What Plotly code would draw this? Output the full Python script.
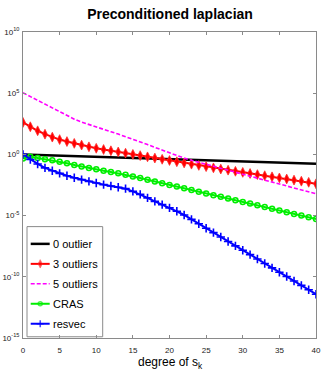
import plotly.graph_objects as go

# degree of s_k
degree = [0, 1, 2, 3, 4, 5, 6, 7, 8, 9, 10, 11, 12, 13, 14, 15, 16, 17, 18, 19, 20,
          21, 22, 23, 24, 25, 26, 27, 28, 29, 30, 31, 32, 33, 34, 35, 36, 37, 38, 39, 40]

# log10 of the plotted quantities
log_0_outlier = [0.00, -0.02, -0.04, -0.06, -0.08, -0.10, -0.11, -0.13, -0.15, -0.17, -0.19,
                 -0.21, -0.23, -0.25, -0.27, -0.29, -0.30, -0.32, -0.34, -0.36, -0.38,
                 -0.40, -0.42, -0.44, -0.46, -0.48, -0.49, -0.51, -0.53, -0.55, -0.57,
                 -0.59, -0.61, -0.63, -0.65, -0.67, -0.68, -0.70, -0.72, -0.74, -0.76]
log_3_outliers = [2.61, 2.26, 1.93, 1.65, 1.41, 1.21, 1.05, 0.90, 0.76, 0.62, 0.50,
                  0.40, 0.30, 0.20, 0.10, 0.00, -0.10, -0.20, -0.30, -0.40, -0.50,
                  -0.60, -0.70, -0.80, -0.90, -1.00, -1.10, -1.20, -1.29, -1.38, -1.47,
                  -1.56, -1.65, -1.74, -1.83, -1.92, -2.01, -2.10, -2.19, -2.28, -2.40]
log_5_outliers = [5.03, 4.72, 4.42, 4.10, 3.77, 3.45, 3.15, 2.88, 2.64, 2.43, 2.23,
                  2.04, 1.85, 1.66, 1.46, 1.25, 1.03, 0.80, 0.57, 0.34, 0.12,
                  -0.10, -0.30, -0.48, -0.65, -0.81, -0.97, -1.12, -1.30, -1.46, -1.62,
                  -1.78, -1.94, -2.10, -2.26, -2.42, -2.58, -2.74, -2.90, -3.06, -3.22]
log_cras = [-0.33, -0.19, -0.30, -0.40, -0.48, -0.60, -0.73, -0.86, -0.99, -1.11, -1.22,
            -1.33, -1.44, -1.55, -1.67, -1.80, -1.93, -2.07, -2.21, -2.35, -2.49,
            -2.63, -2.77, -2.91, -3.05, -3.19, -3.33, -3.47, -3.61, -3.75, -3.89,
            -4.02, -4.16, -4.30, -4.44, -4.58, -4.72, -4.86, -5.00, -5.14, -5.28]
log_resvec = [0.00, -0.42, -0.78, -1.10, -1.33, -1.55, -1.74, -1.91, -2.06, -2.20, -2.34,
              -2.47, -2.58, -2.68, -2.80, -3.02, -3.27, -3.55, -3.84, -4.10, -4.37,
              -4.65, -4.95, -5.31, -5.67, -6.03, -6.39, -6.75, -7.11, -7.47, -7.83,
              -8.19, -8.55, -8.91, -9.27, -9.63, -9.98, -10.34, -10.70, -11.06, -11.42]

series_names = ["0 outlier", "3 outliers", "5 outliers", "CRAS", "resvec"]
x_ticks = [0, 5, 10, 15, 20, 25, 30, 35, 40]
y_tick_exponents = [-15, -10, -5, 0, 5, 10]

styles = {
    "0 outlier": dict(line=dict(color="#000000", width=2.5), mode="lines", marker=None),
    "3 outliers": dict(line=dict(color="#ff0000", width=2), mode="lines+markers",
                       marker=dict(symbol="diamond-tall", size=7, color="#ff0000",
                                   line=dict(width=0.8, color="#ff3030"))),
    "5 outliers": dict(line=dict(color="#ff00ff", width=1.6, dash="4px,2px"), mode="lines", marker=None),
    "CRAS": dict(line=dict(color="#00ee00", width=2), mode="lines+markers",
                 marker=dict(symbol="circle-open", size=5, color="#00ee00", line=dict(width=1.5, color="#00ee00"))),
    "resvec": dict(line=dict(color="#0000ff", width=2), mode="lines+markers",
                   marker=dict(symbol="cross-thin-open", size=6, color="#0000ff", line=dict(width=1.6, color="#4040ff"))),
}

data_map = {
    "0 outlier": log_0_outlier,
    "3 outliers": log_3_outliers,
    "5 outliers": log_5_outliers,
    "CRAS": log_cras,
    "resvec": log_resvec,
}

fig = go.Figure()
for name in series_names:
    st = styles[name]
    kw = dict(x=degree, y=[10 ** v for v in data_map[name]], mode=st["mode"], line=st["line"],
              name=name, showlegend=False)
    if st["marker"] is not None:
        kw["marker"] = st["marker"]
    fig.add_trace(go.Scatter(**kw))

# custom legend (MATLAB style) on an overlay axis in [0,1]
leg_left, leg_right, leg_top, leg_bottom = 0.0137, 0.272, 0.364, 0.004
row_y = [0.3076, 0.2423, 0.1771, 0.1119, 0.0466]
sx0, sxm, sx1, tx = 0.0263, 0.0588, 0.0911, 0.095
legend_font = dict(family="Liberation Sans, Arial, sans-serif", size=11, color="#000000")
for name, yy in zip(series_names, row_y):
    st = styles[name]
    if st["marker"] is not None:
        m = dict(st["marker"])
        m["size"] = [0, max(st["marker"]["size"] - 1, 4), 0]
        fig.add_trace(go.Scatter(x=[sx0, sxm, sx1], y=[yy, yy, yy], mode="lines+markers",
                                 line=st["line"], marker=m, xaxis="x2", yaxis="y2",
                                 showlegend=False, hoverinfo="skip"))
    else:
        fig.add_trace(go.Scatter(x=[sx0, sx1], y=[yy, yy], mode="lines", line=st["line"],
                                 xaxis="x2", yaxis="y2", showlegend=False, hoverinfo="skip"))
    fig.add_annotation(x=tx, y=yy, xref="paper", yref="paper", text=name, showarrow=False,
                       xanchor="left", yanchor="middle", font=legend_font)

fig.add_shape(type="rect", xref="paper", yref="paper", x0=leg_left, x1=leg_right,
              y0=leg_bottom, y1=leg_top, line=dict(color="#8a8a8a", width=1),
              fillcolor="rgba(0,0,0,0)")

# x-axis title
fig.add_annotation(x=0.505, y=-0.05, xref="paper", yref="paper", text="degree of s<sub>k</sub>",
                   showarrow=False, xanchor="center", yanchor="top",
                   font=dict(family="Liberation Sans, Arial, sans-serif", size=12, color="#000000"))

tick_font = dict(family="Liberation Sans, sans-serif", size=8, color="#222222")

fig.update_layout(
    width=322, height=372,
    margin=dict(l=23, r=6, t=32, b=34, autoexpand=False),
    paper_bgcolor="white", plot_bgcolor="white",
    title=dict(text="<b>Preconditioned laplacian</b>", x=0.528, xanchor="center", y=0.962, yanchor="middle",
               font=dict(family="Liberation Sans, Arial, sans-serif", size=14, color="#000000")),
    xaxis=dict(range=[0, 40], tickvals=x_ticks, ticktext=[str(t) for t in x_ticks],
               ticks="inside", ticklen=3, tickcolor="#8a8a8a", showline=True, linecolor="#8a8a8a",
               linewidth=1, mirror="ticks", showgrid=False, zeroline=False, tickfont=tick_font,
               automargin=False, ticklabeloverflow="allow", ticklabelstandoff=4),
    yaxis=dict(type="log", range=[-15, 10], tickvals=[10 ** e for e in y_tick_exponents],
               ticktext=["10<sup>%d</sup>" % e for e in y_tick_exponents],
               ticks="inside", ticklen=3, tickcolor="#8a8a8a", showline=True, linecolor="#8a8a8a",
               linewidth=1, mirror="ticks", showgrid=False, zeroline=False, tickfont=tick_font,
               automargin=False, ticklabeloverflow="allow", ticklabelstandoff=1),
    xaxis2=dict(range=[0, 1], overlaying="x", visible=False, fixedrange=True),
    yaxis2=dict(range=[0, 1], overlaying="y", visible=False, fixedrange=True),
)

fig.write_html("out.html", config={"displayModeBar": False},
               post_script="document.body.style.margin='0';document.body.style.padding='0';")
